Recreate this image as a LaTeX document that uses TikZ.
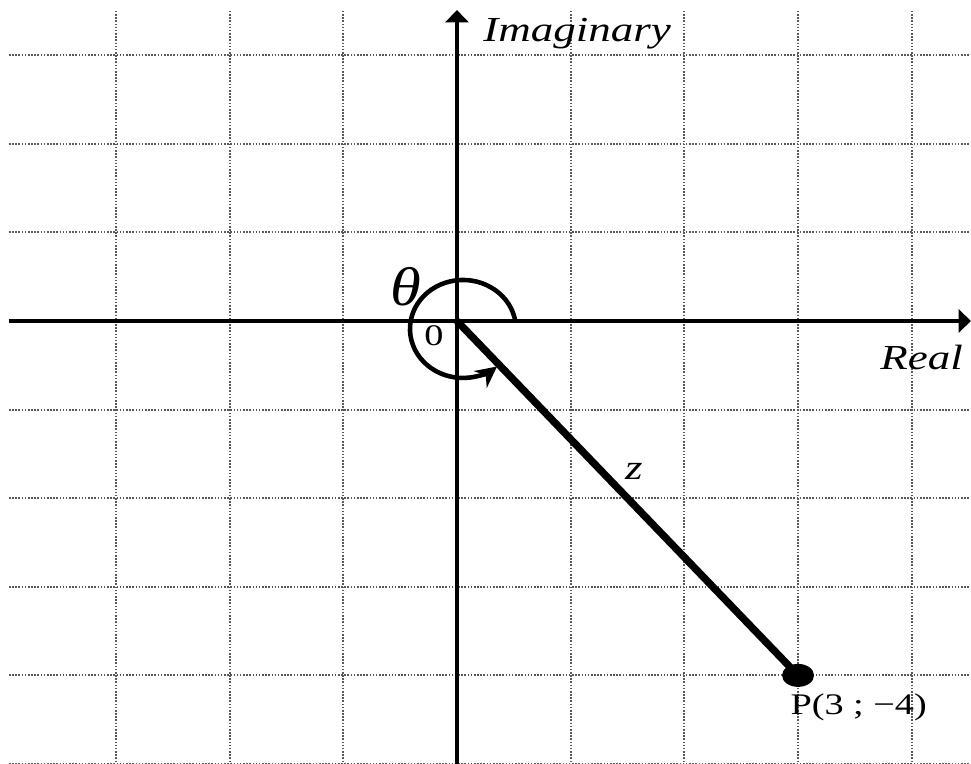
\documentclass[tikz,border=0pt]{standalone}
\usepackage{fontspec}
\setmainfont{Liberation Serif}
\usetikzlibrary{arrows.meta,positioning}

\tikzset{
  gridline/.style={line width=1.1pt, black!65, dash pattern=on 0.9pt off 0.9pt},
  axis/.style={line width=1.8pt, -{Triangle[length=7pt,width=13pt]}},
  spiral/.style={line width=2.6pt, -{Stealth[length=12pt,width=12pt]}},
  lbl/.style={inner sep=0pt, xscale=1.28, font=\fontsize{20}{24}\selectfont\itshape},
  numlbl/.style={inner sep=0pt, xscale=1.28, font=\fontsize{17}{20}\selectfont},
}

\begin{document}
\begin{tikzpicture}[x=2.274cm, y=1.772cm]
  \useasboundingbox (-4.019,-5.0) rectangle (4.521,3.623);
  % 网格
  \foreach \i in {-3,-2,-1,1,2,3,4}
    \draw[gridline] (\i,3.50) -- (\i,-5.0);
  \foreach \j in {3,2,1,-1,-2,-3,-4,-5}
    \draw[gridline] (-3.94,\j) -- (4.521,\j);

  % 坐标轴
  \coordinate (O) at (0,0);
  \coordinate (xl) at (-3.94,0);
  \coordinate (xr) at (4.521,0);
  \coordinate (yb) at (0,-5.0);
  \coordinate (yt) at (0,3.51);
  \draw[axis] (xl) -- (xr);
  \draw[axis] (yb) -- (yt);
  \node[lbl, anchor=base west] (imlbl) at (0.229,3.149) {Imaginary};
  \node[lbl, anchor=base west] (relbl) at (3.72,-0.553) {Real};
  \node[numlbl] (olbl) at (-0.202,-0.169) {0};

  % 角 theta
  \coordinate (ctr) at (0.053,-0.09);
  \draw[spiral] ([shift={(8:1.06cm and 0.98cm)}]ctr)
    arc[start angle=8, end angle=310, x radius=1.06cm, y radius=0.98cm];
  \node[inner sep=0pt, xscale=1.15, font=\fontsize{31}{35}\selectfont\itshape] (thlbl) at (-0.445,0.39) {θ};

  % 向量 z 与点 P
  \coordinate (P) at (3,-4);
  \draw[line width=4.2pt] (O) -- (P);
  \fill (P) ellipse [x radius=0.32cm, y radius=0.23cm];
  \node[lbl] (zlbl) at (1.557,-1.693) {z};
  \node[numlbl, anchor=north west] (plbl) at ([shift={(-0.16cm,-0.36cm)}]P) {P(3 ; −4)};
\end{tikzpicture}
\end{document}
